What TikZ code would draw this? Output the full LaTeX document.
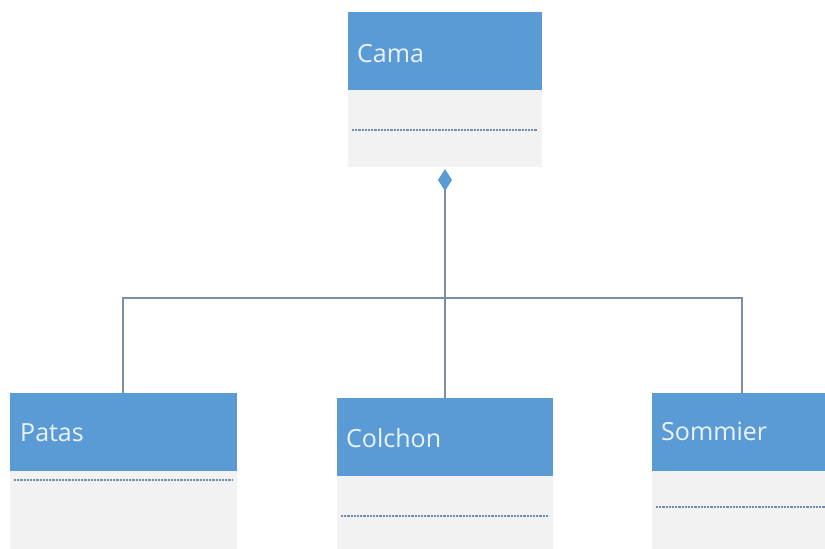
\documentclass[tikz,border=0pt]{standalone}
\usepackage{fontspec}
\setmainfont{Open Sans}
\usetikzlibrary{arrows.meta}
\definecolor{hdrblue}{HTML}{5B9BD5}
\definecolor{bodygray}{HTML}{F2F2F2}
\definecolor{linkgray}{HTML}{7B8FA5}
\definecolor{sepblue}{HTML}{6F8DB0}
\definecolor{titletext}{HTML}{EAF4FF}
\tikzset{
  x=1pt, y=-1pt,
  header/.style={fill=hdrblue, draw=none},
  body/.style={fill=bodygray, draw=none},
  sepline/.style={draw=sepblue, line width=1.2pt, dash pattern=on 2.2pt off 1pt},
  title/.style={anchor=base west, inner sep=0pt, text=titletext, font=\fontsize{25}{30}\selectfont},
  link/.style={draw=linkgray, line width=1.4pt},
  compose/.style={link, {Diamond[fill=hdrblue, color=hdrblue, length=22pt, width=14pt]}-}
}
\begin{document}
\begin{tikzpicture}
\useasboundingbox (0,0) rectangle (825,549);

% Cama
\fill[body] (348,90) rectangle (542,167);
\fill[header] (348,12) rectangle (542,90);
\draw[sepline] (352,130) -- (537,130);
\node[title] (cama) at (357,62) {Cama};
\coordinate (camaB) at (445,169);

% Patas
\fill[body] (10,471) rectangle (237,549);
\fill[header] (10,393) rectangle (237,471);
\draw[sepline] (14,480) -- (233,480);
\node[title] (patas) at (20,441) {Patas};
\coordinate (patasT) at (123,393);

% Colchon
\fill[body] (337,476) rectangle (553,549);
\fill[header] (337,398) rectangle (553,476);
\draw[sepline] (341,516) -- (549,516);
\node[title] (colchon) at (346,447) {Colchon};
\coordinate (colchonT) at (445,398);

% Sommier
\fill[body] (652,471) rectangle (825,549);
\fill[header] (652,393) rectangle (825,471);
\draw[sepline] (656,507) -- (825,507);
\node[title] (sommier) at (661,440) {Sommier};
\coordinate (sommierT) at (742,393);

% composition links
\coordinate (hub) at (445,298);
\draw[compose] (camaB) -- (colchonT);
\draw[link] (patasT) |- (hub) -| (sommierT);
\end{tikzpicture}
\end{document}
